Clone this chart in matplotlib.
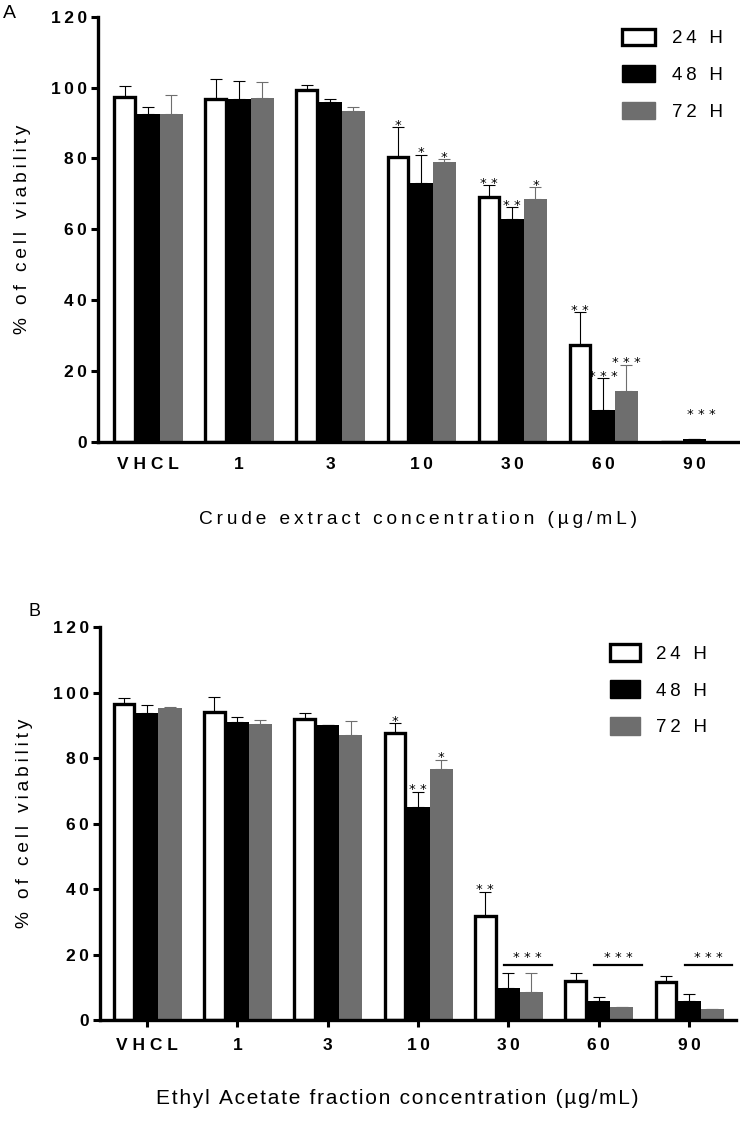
#!/usr/bin/env python3
"""Cell viability bar chart, crude extract (A) and ethyl acetate fraction (B)."""

import matplotlib
matplotlib.use("Agg")
import matplotlib.pyplot as plt
from matplotlib.patches import Patch
import numpy as np

FONT = ["Liberation Sans", "DejaVu Sans"]
plt.rcParams.update({"font.family": FONT})

GROUPS = ["VHCL", "1", "3", "10", "30", "60", "90"]
SERIES = ["24 H", "48 H", "72 H"]

# panel A: crude extract
A_24 = [97.2, 96.8, 99.3, 80.5, 69.1, 27.3, 0.0]
A_48 = [92.6, 96.7, 95.9, 73.1, 62.9, 9.0, 0.8]
A_72 = [92.6, 97.0, 93.4, 78.9, 68.6, 14.4, 0.0]
A_24_ERR = [3.2, 5.6, 1.3, 8.3, 3.4, 9.2, 0.0]
A_48_ERR = [1.9, 5.1, 0.9, 8.0, 3.3, 8.9, 0.0]
A_72_ERR = [5.4, 4.5, 1.2, 0.9, 3.2, 7.4, 0.0]
A_24_STARS = ["", "", "", "*", "**", "**", ""]
A_48_STARS = ["", "", "", "*", "**", "***", ""]
A_72_STARS = ["", "", "", "*", "*", "***", ""]
# the 90 µg/mL group has its stars floating above an empty bar
A_90_STARS = "***"
A_90_STAR_Y = 5.8

# panel B: ethyl acetate fraction
B_24 = [96.5, 94.2, 92.0, 87.8, 31.9, 12.0, 11.5]
B_48 = [93.7, 91.0, 90.0, 65.1, 9.7, 5.8, 5.8]
B_72 = [95.3, 90.4, 87.0, 76.7, 8.4, 4.0, 3.4]
B_24_ERR = [1.8, 4.4, 1.7, 2.8, 7.3, 2.5, 2.0]
B_48_ERR = [2.4, 1.7, 0.2, 4.5, 4.8, 1.1, 2.1]
B_72_ERR = [0.4, 1.3, 4.4, 2.7, 5.9, 0.0, 0.0]
B_24_STARS = ["", "", "", "*", "**", "", ""]
B_48_STARS = ["", "", "", "**", "", "", ""]
B_72_STARS = ["", "", "", "*", "", "", ""]
B_BRACKET_GROUPS = ["30", "60", "90"]
B_BRACKET_Y = 16.8

GREY = "#6e6e6e"
WIDTH = 0.255
STAR_SIZE = 9.5


def spaced(s, sep="\u2009"):
    return sep.join(s)


def draw_panel(ax, vals, errs, stars, xlabel, show_xticks, label_sep, label_size,
               label_xy):
    x = np.arange(len(GROUPS))
    styles = [
        dict(facecolor="white", edgecolor="black", linewidth=2.4),
        dict(facecolor="black", edgecolor="black", linewidth=0),
        dict(facecolor=GREY, edgecolor=GREY, linewidth=0),
    ]
    ecolors = ["black", "black", GREY]
    for i, (v, e, s, st, ec) in enumerate(zip(vals, errs, stars, styles, ecolors)):
        xs = x + (i - 1) * WIDTH
        ax.bar(xs, v, WIDTH * 0.9 if i == 0 else WIDTH, zorder=2, **st)
        ax.errorbar(xs, v, yerr=[np.zeros(len(v)), e], fmt="none",
                    ecolor=ec, elinewidth=0.8, capsize=4.5, capthick=0.8, zorder=1)
        for xi, vi, ei, si in zip(xs, v, e, s):
            if si:
                ax.text(xi, vi + ei - 1.3, spaced(si, " "), ha="center", va="bottom",
                        fontsize=STAR_SIZE, family="DejaVu Sans")

    ax.set_ylim(0, 120)
    ax.set_yticks(range(0, 121, 20))
    ax.set_yticklabels([spaced(str(t)) for t in range(0, 121, 20)],
                       fontsize=12.5, fontweight="bold")
    ax.set_xticks(x)
    ax.set_xticklabels([spaced(g, " ") if g == "VHCL" else spaced(g) for g in GROUPS],
                       fontsize=12.5, fontweight="bold")
    ax.tick_params(axis="y", width=2.2, length=5, pad=3)
    if show_xticks:
        ax.tick_params(axis="x", width=2.2, length=5, pad=8)
    else:
        ax.tick_params(axis="x", length=0, pad=11)
    for side in ("top", "right"):
        ax.spines[side].set_visible(False)
    for side in ("left", "bottom"):
        ax.spines[side].set_linewidth(2.4)
    ax.set_ylabel(spaced("% of cell viability", "\u2009"), fontsize=13.8, labelpad=14)
    ax.set_xlabel(spaced(xlabel, label_sep), fontsize=label_size)
    ax.xaxis.set_label_coords(*label_xy)


def add_legend(ax, anchor, hlen, hheight):
    handles = [
        Patch(facecolor="white", edgecolor="black", linewidth=2.4),
        Patch(facecolor="black", edgecolor="black"),
        Patch(facecolor=GREY, edgecolor=GREY),
    ]
    ax.legend(handles, [spaced(s, "\u2009") for s in SERIES], loc="upper left",
              bbox_to_anchor=anchor, bbox_transform=ax.figure.transFigure,
              frameon=False, fontsize=13.5, handlelength=hlen, handleheight=hheight,
              labelspacing=0.95, handletextpad=0.9, borderaxespad=0)


def main():
    fig = plt.figure(figsize=(7.4, 11.39), dpi=100)

    ax_a = fig.add_axes([98 / 740, 0.6122, 640 / 740, 0.3731])
    draw_panel(ax_a, [A_24, A_48, A_72], [A_24_ERR, A_48_ERR, A_72_ERR],
               [A_24_STARS, A_48_STARS, A_72_STARS],
               "Crude extract concentration (µg/mL)", show_xticks=False,
               label_sep="\u2009", label_size=13.8, label_xy=(0.5, -0.162))
    ax_a.set_xlim(-0.55, 6.48)
    ax_a.text(GROUPS.index("90") + 0.08, A_90_STAR_Y, spaced(A_90_STARS, " "),
              ha="center", va="bottom", fontsize=STAR_SIZE, family="DejaVu Sans")
    add_legend(ax_a, (614 / 740, 1 - 21 / 1139), 1.8, 1.0)

    ax_b = fig.add_axes([100 / 740, 0.1045, 636 / 740, 0.3448])
    draw_panel(ax_b, [B_24, B_48, B_72], [B_24_ERR, B_48_ERR, B_72_ERR],
               [B_24_STARS, B_48_STARS, B_72_STARS],
               "Ethyl Acetate fraction concentration (µg/mL)", show_xticks=True,
               label_sep="\u200a", label_size=15, label_xy=(0.467, -0.176))
    ax_b.set_xlim(-0.52, 6.52)
    add_legend(ax_b, (602 / 740, 1 - 636 / 1139), 1.6, 1.05)

    for g in B_BRACKET_GROUPS:
        gi = GROUPS.index(g)
        x0, x1 = gi - 0.05, gi + 0.48
        ax_b.plot([x0, x1], [B_BRACKET_Y, B_BRACKET_Y], color="black", lw=1.6)
        ax_b.text((x0 + x1) / 2, B_BRACKET_Y + 0.3, "* * *", ha="center",
                  va="bottom", fontsize=STAR_SIZE, family="DejaVu Sans")

    fig.text(0.004, 1 - 14 / 1139, "A", fontsize=14, va="center", ha="left")
    fig.text(0.038, 1 - 612 / 1139, "B", fontsize=13, va="center", ha="left")

    fig.savefig("out.png", dpi=100)
    plt.close(fig)


if __name__ == "__main__":
    main()
